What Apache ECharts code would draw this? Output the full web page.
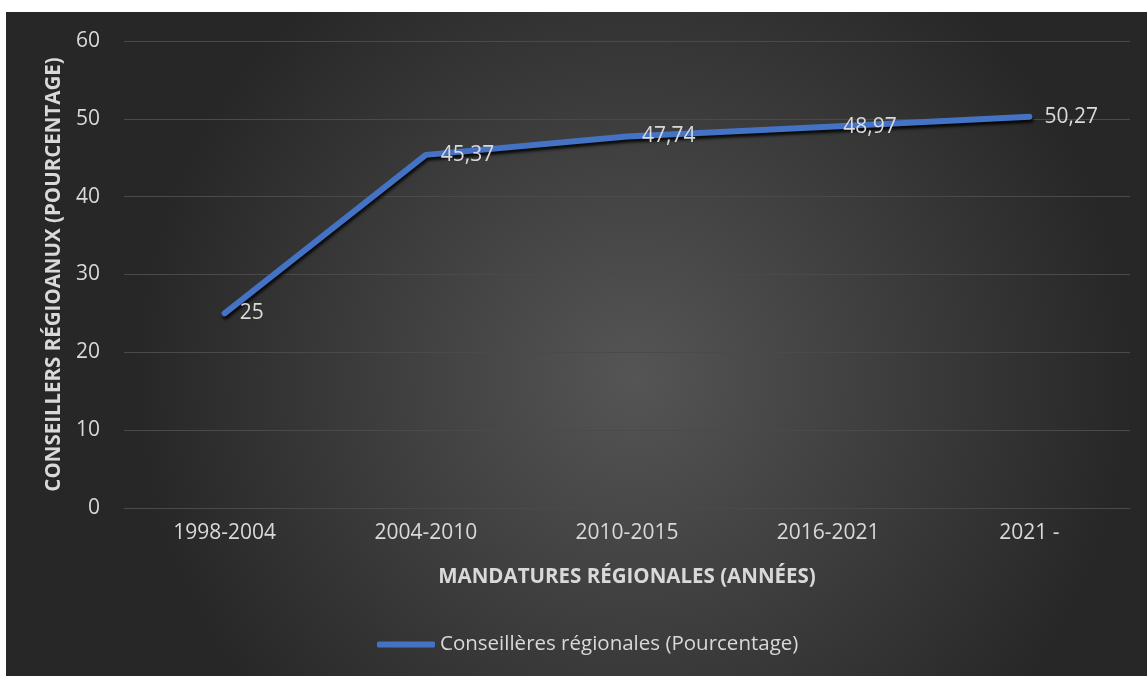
<!DOCTYPE html>
<html>
<head>
<meta charset="utf-8">
<script src="https://cdn.jsdelivr.net/npm/echarts@6/dist/echarts.min.js"></script>
<style>
html,body{margin:0;padding:0;background:#ffffff;}
#c{position:absolute;left:6px;top:12px;width:1141px;height:664px;}
</style>
</head>
<body>
<div id="c"></div>
<script>
const categories = ['1998-2004', '2004-2010', '2010-2015', '2016-2021', '2021 -'];
const values = [25, 45.37, 47.74, 48.97, 50.27];
const seriesName = 'Conseillères régionales (Pourcentage)';
const xTitle = 'MANDATURES RÉGIONALES (ANNÉES)';
const yTitle = 'CONSEILLERS RÉGIOANUX (POURCENTAGE)';

const font = '"Open Sans", "Noto Sans", sans-serif';
const txt = '#d9d9d9';
const chart = echarts.init(document.getElementById('c'));
chart.setOption({
  animation: false,
  backgroundColor: {
    type: 'radial', x: 0.55, y: 0.55, r: 0.75,
    colorStops: [{offset: 0, color: '#555555'}, {offset: 1, color: '#272727'}]
  },
  textStyle: {fontFamily: font},
  grid: {left: 118, right: 17, top: 29, bottom: 168},
  legend: {
    data: [{name: seriesName, icon: 'roundRect'}],
    bottom: 16, left: 366,
    itemWidth: 58, itemHeight: 6, itemGap: 2,
    textStyle: {color: txt, fontSize: 20.5, fontFamily: font}
  },
  xAxis: {
    type: 'category', data: categories,
    boundaryGap: true,
    axisLine: {show: true, lineStyle: {color: '#4a4a4a', width: 1}},
    axisTick: {show: false},
    axisLabel: {color: txt, fontSize: 21, margin: 15, fontFamily: font},
    name: xTitle, nameLocation: 'middle', nameGap: 59,
    nameTextStyle: {color: txt, fontSize: 20.5, fontWeight: 'bold', fontFamily: font}
  },
  yAxis: {
    type: 'value', min: 0, max: 60, interval: 10,
    axisLine: {show: false}, axisTick: {show: false},
    splitLine: {lineStyle: {color: '#4a4a4a', width: 1}},
    axisLabel: {color: txt, fontSize: 21, margin: 24, fontFamily: font},
    name: yTitle, nameLocation: 'middle', nameGap: 50,
    nameTextStyle: {color: txt, fontSize: 20.5, fontWeight: 'bold', fontFamily: font}
  },
  series: [{
    name: seriesName, type: 'line', data: values,
    symbol: 'circle', symbolSize: 0.1, showSymbol: true,
    lineStyle: {color: '#4472C4', width: 6, cap: 'round', join: 'round',
      shadowColor: 'rgba(0,0,0,0.85)', shadowBlur: 3, shadowOffsetX: 1, shadowOffsetY: 3},
    itemStyle: {color: '#4472C4'},
    label: {show: true, position: 'right', distance: 15, color: txt, fontSize: 21, fontFamily: font,
      formatter: p => String(p.value).replace('.', ',')}
  }]
});
</script>
</body>
</html>
